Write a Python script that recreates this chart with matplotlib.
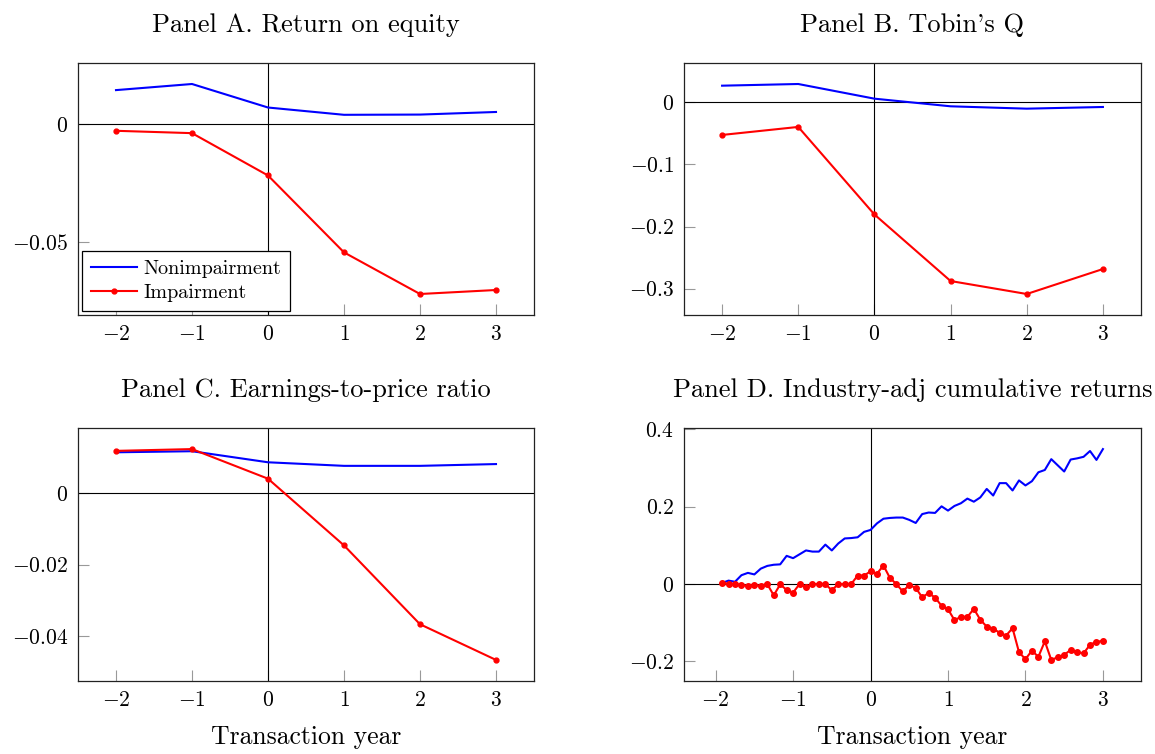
import matplotlib
matplotlib.use("Agg")
import matplotlib.pyplot as plt
from matplotlib.ticker import FuncFormatter

plt.rcParams["font.family"] = "cmr10"
plt.rcParams["mathtext.fontset"] = "cm"
plt.rcParams["axes.formatter.use_mathtext"] = True

# yearly panels
years = [-2, -1, 0, 1, 2, 3]

roe_non = [0.0145, 0.0171, 0.0071, 0.0040, 0.0041, 0.0052]
roe_imp = [-0.0028, -0.0038, -0.0218, -0.0545, -0.0722, -0.0705]

tobq_non = [0.0268, 0.0295, 0.0059, -0.0064, -0.0102, -0.0075]
tobq_imp = [-0.0525, -0.0396, -0.1805, -0.2876, -0.3085, -0.2683]

ep_non = [0.0115, 0.0118, 0.0087, 0.0077, 0.0077, 0.0082]
ep_imp = [0.0119, 0.0124, 0.0041, -0.0146, -0.0367, -0.0467]

# monthly panel (months -23 .. 36)
months = list(range(-23, 37))
car_non = [0.003, 0.009, 0.006, 0.023, 0.029, 0.025, 0.040, 0.047, 0.050, 0.051,
           0.073, 0.067, 0.077, 0.087, 0.084, 0.084, 0.102, 0.087, 0.105, 0.118,
           0.119, 0.121, 0.135, 0.140, 0.157, 0.169, 0.171, 0.172, 0.172, 0.166,
           0.158, 0.181, 0.185, 0.184, 0.201, 0.190, 0.202, 0.209, 0.221, 0.213,
           0.224, 0.246, 0.229, 0.261, 0.261, 0.242, 0.268, 0.255, 0.266, 0.289,
           0.295, 0.323, 0.307, 0.291, 0.322, 0.325, 0.329, 0.344, 0.321, 0.349]
car_imp = [0.003, 0.001, 0.000, -0.003, -0.004, -0.003, -0.004, 0.000, -0.029, -0.001,
           -0.015, -0.022, 0.000, -0.008, 0.000, 0.000, 0.000, -0.016, 0.000, 0.000,
           0.000, 0.022, 0.022, 0.033, 0.027, 0.048, 0.016, 0.000, -0.019, -0.002,
           -0.010, -0.034, -0.023, -0.035, -0.056, -0.065, -0.093, -0.085, -0.085, -0.064,
           -0.092, -0.110, -0.115, -0.126, -0.133, -0.114, -0.176, -0.194, -0.172, -0.188,
           -0.148, -0.196, -0.189, -0.183, -0.170, -0.176, -0.179, -0.157, -0.149, -0.147]
month_years = [m / 12 for m in months]

# cmr10 uses TeX encoding: the ascii quote is drawn as a right quote
titles = ["Panel A. Return on equity", "Panel B. Tobin's Q",
          "Panel C. Earnings-to-price ratio", "Panel D. Industry-adj cumulative returns"]
xticks = [-2, -1, 0, 1, 2, 3]
yticks_a = [-0.05, 0]
yticks_b = [-0.3, -0.2, -0.1, 0]
yticks_c = [-0.04, -0.02, 0]
yticks_d = [-0.2, 0, 0.2, 0.4]

fig = plt.figure(figsize=(11.55, 7.54), dpi=100)
W, H = 1155, 754


def make_ax(x0, x1, y0, y1):
    return fig.add_axes([x0 / W, 1 - y1 / H, (x1 - x0) / W, (y1 - y0) / H])


axA = make_ax(78, 534, 63, 315)
axB = make_ax(684, 1141, 63, 315)
axC = make_ax(78, 534, 428, 681)
axD = make_ax(684, 1141, 428, 681)

fmt = FuncFormatter(lambda v, p: "$%g$" % round(v, 6))

panels = [
    (axA, years, roe_non, roe_imp, yticks_a, 3.5),
    (axB, years, tobq_non, tobq_imp, yticks_b, 3.5),
    (axC, years, ep_non, ep_imp, yticks_c, 3.5),
    (axD, month_years, car_non, car_imp, yticks_d, 4),
]

for i, (ax, xs, non, imp, yt, ms) in enumerate(panels):
    ax.plot(xs, non, color="blue", lw=1.5, label="Nonimpairment", zorder=3)
    ax.plot(xs, imp, color="red", lw=1.5, marker="o", ms=ms, label="Impairment", zorder=3)
    ax.axhline(0, color="black", lw=0.8, zorder=2)
    ax.axvline(0, color="black", lw=0.8, zorder=2)
    ax.margins(x=0.1, y=0.1)
    ax.set_xticks(xticks)
    ax.set_yticks(yt)
    ax.xaxis.set_major_formatter(fmt)
    ax.yaxis.set_major_formatter(fmt)
    ax.tick_params(direction="in", length=8, width=0.8, color="#999999",
                   labelsize=15.5, pad=7)
    for s in ax.spines.values():
        s.set_linewidth(0.9)
        s.set_color("#222222")
    ax.set_title(titles[i], fontsize=19, pad=22)
    if i >= 2:
        ax.set_xlabel("Transaction year", fontsize=18.5, labelpad=11)

leg = axA.legend(loc="lower left", fontsize=14.5, frameon=True, fancybox=False,
                 edgecolor="black", framealpha=1, handlelength=2.3,
                 borderpad=0.45, labelspacing=0.3, handletextpad=0.3,
                 borderaxespad=0.2)
leg.get_frame().set_linewidth(0.9)

fig.savefig("out.png", dpi=100)
